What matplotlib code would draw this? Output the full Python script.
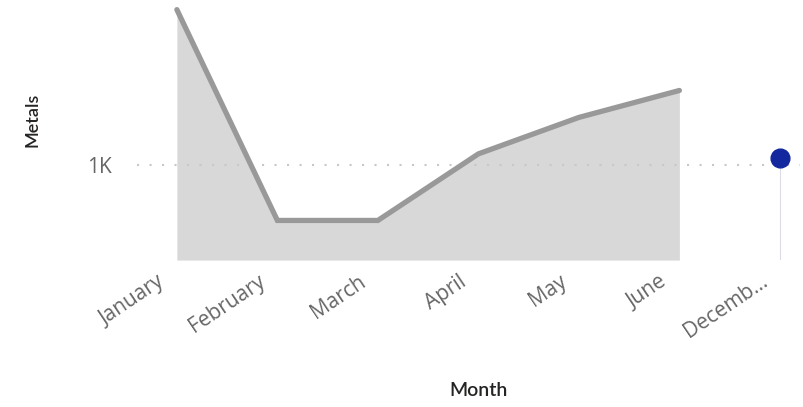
import matplotlib.pyplot as plt
from matplotlib.transforms import ScaledTranslation, blended_transform_factory

# data
months = ["January", "February", "March", "April", "May", "June", "Decemb..."]
metals = [1490, 825, 825, 1035, 1150, 1235]   # Jan..Jun
december = 1022

LINE_COLOR = "#999999"
FILL_COLOR = "#d8d8d8"
DOT_COLOR = "#13279f"
TEXT_COLOR = "#666666"

plt.rcParams["font.family"] = ["Open Sans", "DejaVu Sans"]

fig = plt.figure(figsize=(8.04, 4.07), dpi=100)
ax = fig.add_axes([0.170, 0.361, 0.825, 0.627])

x = list(range(len(metals)))
ax.fill_between(x, metals, 700, color=FILL_COLOR, linewidth=0, zorder=1)
ax.plot(x, metals, color=LINE_COLOR, linewidth=3.8, solid_capstyle="round",
        solid_joinstyle="miter", zorder=3)

# december point with its drop line
xd = len(months) - 1
ax.vlines(xd, 700, december, color="#dcdce6", linewidth=0.8, zorder=2)
ax.plot([xd], [december], "o", color=DOT_COLOR, markersize=13.5, zorder=4)

ax.set_xlim(-0.4, 6.2)
ax.set_ylim(700, 1505)

ax.set_yticks([1000])
ax.set_yticklabels(["1K"])
ax.grid(axis="y", linestyle=(0, (1, 5)), color="#c8c8c8", linewidth=1.5, zorder=0)

# month labels, drawn by hand so they can sit left of / below each category
ax.set_xticks(range(len(months)))
ax.set_xticklabels([])
trans = blended_transform_factory(ax.transData, ax.transAxes) + \
    ScaledTranslation(-20 / 100, -11 / 100, fig.dpi_scale_trans)
for i, m in enumerate(months):
    ax.text(i, 0, m, transform=trans, rotation=34, ha="right", va="top",
            rotation_mode="anchor", fontsize=15, color=TEXT_COLOR)

ax.tick_params(axis="both", length=0, colors=TEXT_COLOR)
ax.tick_params(axis="y", labelsize=15, pad=18)
for s in ax.spines.values():
    s.set_visible(False)

fig.text(0.041, 0.705, "Metals", rotation=90, ha="center", va="center",
         fontsize=13, color="#252423", fontweight="semibold", family="Lato")
fig.text(0.595, 0.040, "Month", ha="center", va="center",
         fontsize=14, color="#252423", fontweight="semibold", family="Lato")

fig.savefig("out.png", dpi=100)
